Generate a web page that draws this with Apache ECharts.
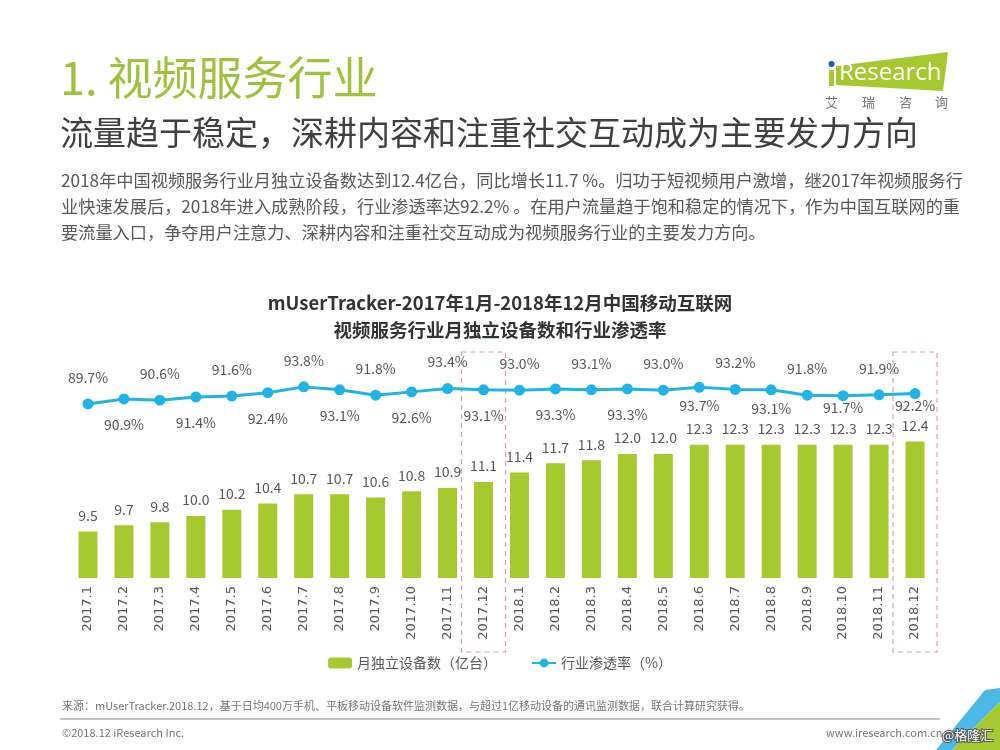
<!DOCTYPE html>
<html><head><meta charset="utf-8">
<script src="https://cdn.jsdelivr.net/npm/echarts@6/dist/echarts.min.js"></script>
<style>html,body{margin:0;padding:0;background:#fff}#c{width:1000px;height:750px}</style>
</head><body><div id="c"></div>
<script>
const months = ['2017.1','2017.2','2017.3','2017.4','2017.5','2017.6','2017.7','2017.8','2017.9','2017.10','2017.11','2017.12',
'2018.1','2018.2','2018.3','2018.4','2018.5','2018.6','2018.7','2018.8','2018.9','2018.10','2018.11','2018.12'];
const devices = [9.5,9.7,9.8,10.0,10.2,10.4,10.7,10.7,10.6,10.8,10.9,11.1,11.4,11.7,11.8,12.0,12.0,12.3,12.3,12.3,12.3,12.3,12.3,12.4];
const penetration = [89.7,90.9,90.6,91.4,91.6,92.4,93.8,93.1,91.8,92.6,93.4,93.1,93.0,93.3,93.1,93.3,93.0,93.7,93.2,93.1,91.8,91.7,91.9,92.2];
const highlighted = ['2017.12','2018.12'];
const seriesNames = ['月独立设备数（亿台）','行业渗透率（%）'];

const FONT = '"Noto Sans CJK SC","Noto Sans",sans-serif';
const GREEN = '#a6c92f', BLUE = '#1fb3e6', GREY = '#595959';
const chart = echarts.init(document.getElementById('c'), null, {renderer:'canvas'});

const headerGraphics = [
  {type:'text', left:60, top:55, style:{text:'1. 视频服务行业', font:'45px '+FONT, fill:'#9cc33a'}},
  {type:'text', left:60, top:116, style:{text:'流量趋于稳定，深耕内容和注重社交互动成为主要发力方向', font:'33px '+FONT, fill:'#404040'}},
  {type:'text', left:61, top:172, style:{text:'2018年中国视频服务行业月独立设备数达到12.4亿台，同比增长11.7 %。归功于短视频用户激增，继2017年视频服务行', font:'17.2px '+FONT, fill:GREY}},
  {type:'text', left:61, top:198, style:{text:'业快速发展后，2018年进入成熟阶段，行业渗透率达92.2% 。在用户流量趋于饱和稳定的情况下，作为中国互联网的重', font:'17.2px '+FONT, fill:GREY}},
  {type:'text', left:61, top:224, style:{text:'要流量入口，争夺用户注意力、深耕内容和注重社交互动成为视频服务行业的主要发力方向。', font:'17.2px '+FONT, fill:GREY}},
  // logo
  {type:'polygon', shape:{points:[[836,66],[948,52],[943,91],[836,85]]}, style:{fill:'#a6c92f'}},
  {type:'rect', shape:{x:829, y:70, width:5, height:16}, style:{fill:'#a6c92f'}},
  {type:'circle', shape:{cx:831.5, cy:64, r:3}, style:{fill:'#1a5ea8'}},
  {type:'text', left:839, top:61, style:{text:'Research', font:'24px "Open Sans",sans-serif', fill:'#ffffff'}},
  {type:'text', left:825, top:96, style:{text:'艾', font:'13px '+FONT, fill:'#777'}},
  {type:'text', left:862, top:96, style:{text:'瑞', font:'13px '+FONT, fill:'#777'}},
  {type:'text', left:899, top:96, style:{text:'咨', font:'13px '+FONT, fill:'#777'}},
  {type:'text', left:935, top:96, style:{text:'询', font:'13px '+FONT, fill:'#777'}},
  // footer
  {type:'text', left:62, top:700, style:{text:'来源：mUserTracker.2018.12，基于日均400万手机、平板移动设备软件监测数据，与超过1亿移动设备的通讯监测数据，联合计算研究获得。', font:'11px '+FONT, fill:'#777'}},
  {type:'line', shape:{x1:60, y1:719, x2:940, y2:719}, style:{stroke:'#888', lineWidth:1}},
  {type:'text', left:62, top:727, style:{text:'©2018.12 iResearch Inc.', font:'11px '+FONT, fill:'#777'}},
  {type:'text', left:826, top:727, style:{text:'www.iresearch.com.cn', font:'11px '+FONT, fill:'#777'}},
  {type:'polygon', shape:{points:[[985,690],[1000,688],[1000,702],[952,750],[936,750]]}, style:{fill:'#4cb8e6'}},
  {type:'polygon', shape:{points:[[1000,702],[1000,750],[952,750]]}, style:{fill:'#a6c92f'}},
  {type:'text', left:941, top:728, style:{text:'@格隆汇', font:'13px '+FONT, fill:'#fff', stroke:'#555', lineWidth:2}}
];

chart.setOption({
  backgroundColor:'#fff',
  animation:false,
  title:{
    text:'mUserTracker-2017年1月-2018年12月中国移动互联网\n视频服务行业月独立设备数和行业渗透率',
    left:'center', top:284,
    textStyle:{fontFamily:FONT, fontSize:18.5, fontWeight:'bold', color:'#333', lineHeight:27}
  },
  legend:{
    top:651, left:'center', itemGap:34, itemWidth:24, itemHeight:11,
    textStyle:{fontFamily:FONT, fontSize:14, color:GREY},
    data:seriesNames
  },
  grid:{left:70, right:67, top:361, bottom:172, containLabel:false},
  xAxis:{
    type:'category', data:months,
    axisLine:{show:false}, axisTick:{show:false},
    axisLabel:{rotate:90, color:GREY, fontSize:13, fontFamily:'"DejaVu Sans",sans-serif', margin:8, interval:0}
  },
  yAxis:[
    {type:'value', min:8, max:15, show:false, splitLine:{show:false}},
    {type:'value', min:48, max:100, show:false, splitLine:{show:false}}
  ],
  series:[
    {
      name:seriesNames[0], type:'bar', yAxisIndex:0, data:devices, barWidth:19,
      itemStyle:{color:GREEN},
      label:{show:true, position:'top', distance:9, color:GREY, fontSize:14, fontFamily:FONT,
        formatter:p=>p.value.toFixed(1)}
    },
    {
      name:seriesNames[1], type:'line', yAxisIndex:1,
      data:penetration.map((v,i)=>({value:v, label:{
        position: i%2 ? 'bottom':'top',
        distance: i%2 ? (i >= 21 ? 0 : (i >= 17 ? 6 : 13)) : 14}})),
      symbol:'circle', symbolSize:11,
      lineStyle:{color:BLUE, width:3}, itemStyle:{color:BLUE},
      label:{show:true, color:GREY, fontSize:14, fontFamily:FONT, formatter:p=>p.value.toFixed(1)+'%'}
    }
  ],
  graphic: headerGraphics
});

// dashed highlight boxes around chosen months, positioned from the axis scale
const boxes = highlighted.map(m=>{
  const cx = chart.convertToPixel({xAxisIndex:0}, m);
  return {type:'rect', shape:{x:cx-22, y:352, width:44, height:300},
    style:{fill:'none', stroke:'#e79aab', lineWidth:1.2, lineDash:[5,4]}};
});
chart.setOption({graphic: headerGraphics.concat(boxes)});
</script></body></html>
